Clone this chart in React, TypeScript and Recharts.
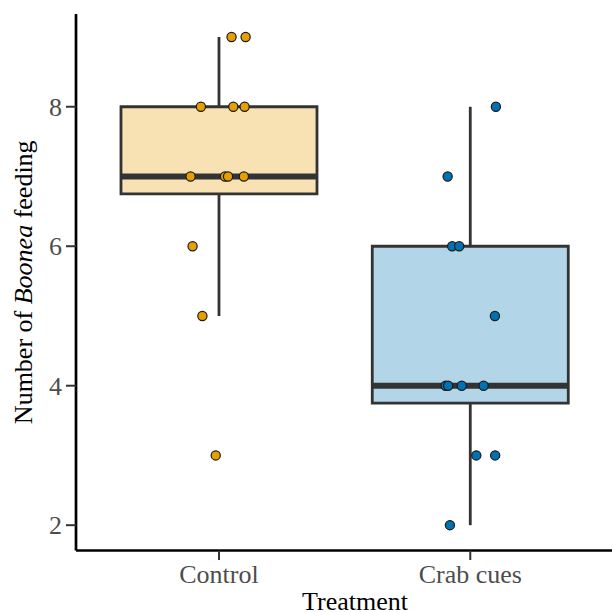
import React from 'react';
import {
  ComposedChart,
  XAxis,
  YAxis,
  Scatter,
  ReferenceArea,
  ReferenceLine,
} from 'recharts';

// ---- data ----
const categories = ['Control', 'Crab cues'];
const categoryPositions = [1, 2];

const controlValues = [9, 9, 8, 8, 8, 7, 7, 7, 7, 6, 5, 3];
const controlJitter = [0.05, 0.106, -0.072, 0.057, 0.102, -0.113, 0.024, 0.036, 0.099, -0.105, -0.066, -0.013];

const crabValues = [8, 7, 6, 6, 5, 4, 4, 4, 4, 3, 3, 2];
const crabJitter = [0.102, -0.09, -0.072, -0.044, 0.098, -0.098, -0.088, -0.034, 0.053, 0.024, 0.099, -0.081];

const boxQ1 = [6.75, 3.75];
const boxMedian = [7, 4];
const boxQ3 = [8, 6];
const whiskerLow = [5, 2];
const whiskerHigh = [9, 8];

const yTicks = [2, 4, 6, 8];

// ---- styling ----
const FONT = '"Liberation Serif", "Times New Roman", serif';
const boxFills = ['#F8E2B3', '#B3D5E8'];
const pointFills = ['#E69F00', '#0072B2'];
const BOX_STROKE = '#333333';
const BOX_HALF = 0.39;

const controlPoints = controlValues.map((v, i) => ({ x: categoryPositions[0] + controlJitter[i], y: v }));
const crabPoints = crabValues.map((v, i) => ({ x: categoryPositions[1] + crabJitter[i], y: v }));

const renderDot = (p: any) => (
  <circle cx={p.cx} cy={p.cy} r={4.6} fill={p.fill} stroke="#1a1a1a" strokeWidth={1.2} />
);

const YTitle = (props: any) => {
  const vb = props.viewBox || {};
  const cy = vb.y + vb.height / 2;
  const x = 32;
  return (
    <text
      x={x}
      y={cy}
      transform={`rotate(-90, ${x}, ${cy})`}
      textAnchor="middle"
      fontFamily={FONT}
      fontSize={26}
      fill="#000000"
    >
      Number of <tspan fontStyle="italic">Boonea</tspan> feeding
    </text>
  );
};

const XTitle = (props: any) => {
  const vb = props.viewBox || {};
  const cx = vb.x + vb.width / 2 + 11;
  return (
    <text x={cx} y={610} textAnchor="middle" fontFamily={FONT} fontSize={26} fill="#000000">
      Treatment
    </text>
  );
};

export default function App() {
  return (
    <div style={{ position: 'fixed', left: 0, top: 0, width: 612, height: 612, overflow: 'hidden', background: '#ffffff' }}>
      <ComposedChart
        width={612}
        height={612}
        margin={{ top: 14, right: 0, bottom: 0, left: 0 }}
        style={{ fontFamily: FONT }}
      >
        <XAxis
          type="number"
          dataKey="x"
          domain={[0.431, 2.564]}
          allowDataOverflow
          ticks={categoryPositions}
          tickFormatter={(v: number) => categories[categoryPositions.indexOf(v)] ?? ''}
          height={61.5}
          axisLine={{ stroke: '#000000', strokeWidth: 2.7 }}
          tickLine={{ stroke: '#333333', strokeWidth: 2 }}
          tickSize={9.5}
          tickMargin={4.2}
          tick={{ fill: '#4D4D4D', fontSize: 26, fontFamily: FONT }}
          label={<XTitle />}
        />
        <YAxis
          type="number"
          dataKey="y"
          domain={[1.637, 9.33]}
          allowDataOverflow
          ticks={yTicks}
          width={76}
          axisLine={{ stroke: '#000000', strokeWidth: 2.7 }}
          tickLine={{ stroke: '#333333', strokeWidth: 2 }}
          tickSize={10}
          tickMargin={4}
          tick={{ fill: '#4D4D4D', fontSize: 26, fontFamily: FONT }}
          label={<YTitle />}
        />

        {categoryPositions.map((c, i) => (
          <ReferenceLine
            key={`wl-${i}`}
            segment={[{ x: c, y: whiskerLow[i] }, { x: c, y: boxQ1[i] }]}
            stroke={BOX_STROKE}
            strokeWidth={2.8}
          />
        ))}
        {categoryPositions.map((c, i) => (
          <ReferenceLine
            key={`wh-${i}`}
            segment={[{ x: c, y: boxQ3[i] }, { x: c, y: whiskerHigh[i] }]}
            stroke={BOX_STROKE}
            strokeWidth={2.8}
          />
        ))}
        {categoryPositions.map((c, i) => (
          <ReferenceArea
            key={`box-${i}`}
            x1={c - BOX_HALF}
            x2={c + BOX_HALF}
            y1={boxQ1[i]}
            y2={boxQ3[i]}
            fill={boxFills[i]}
            fillOpacity={1}
            stroke={BOX_STROKE}
            strokeWidth={2.8}
          />
        ))}
        {categoryPositions.map((c, i) => (
          <ReferenceLine
            key={`med-${i}`}
            segment={[{ x: c - BOX_HALF, y: boxMedian[i] }, { x: c + BOX_HALF, y: boxMedian[i] }]}
            stroke={BOX_STROKE}
            strokeWidth={6}
          />
        ))}

        <Scatter data={controlPoints} fill={pointFills[0]} shape={renderDot} isAnimationActive={false} />
        <Scatter data={crabPoints} fill={pointFills[1]} shape={renderDot} isAnimationActive={false} />
      </ComposedChart>
    </div>
  );
}
